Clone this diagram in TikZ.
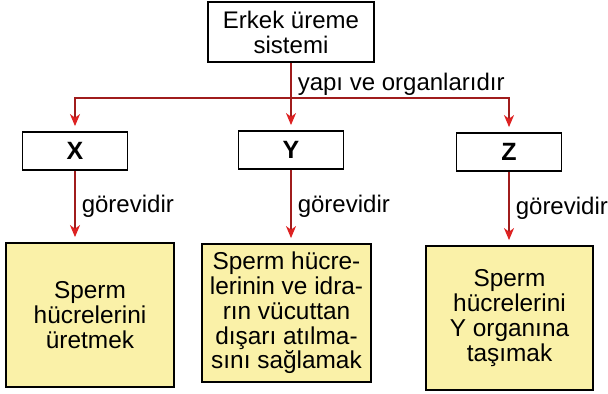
\documentclass[tikz,border=0pt]{standalone}
\usepackage{fontspec}
\setmainfont{Liberation Sans}
\usetikzlibrary{arrows.meta, calc}

\definecolor{linered}{HTML}{A01C1C}
\definecolor{tipred}{HTML}{DD2222}
\definecolor{paleyellow}{HTML}{FAF1A8}

\begin{document}
\begin{tikzpicture}[x=0.5pt, y=0.5pt,
    trunk/.style={draw=linered, line width=0.8pt},
    link/.style={trunk, -{Stealth[length=6pt, width=5pt, inset=1.8pt, color=tipred]}, shorten >=2.5pt},
    system/.style={draw, line width=0.9pt, fill=white, align=center, minimum width=83pt, minimum height=30pt, inner sep=1pt, font=\fontsize{12}{12.5}\selectfont},
    organ/.style={draw, line width=0.9pt, fill=white, minimum width=52.5pt, minimum height=19pt, inner sep=1pt, font=\fontsize{12.5}{14}\selectfont\bfseries},
    duty/.style={draw, line width=0.9pt, fill=paleyellow, align=center, minimum width=84pt, minimum height=72pt, inner sep=1pt, font=\fontsize{12.2}{12.4}\selectfont},
    tag/.style={right, inner sep=3pt, font=\fontsize{12}{14}\selectfont}]

    \useasboundingbox (0,0) rectangle (608,394);

    \node[system] (sys) at (291,362) {Erkek üreme\\sistemi};

    \node[organ] (x) at (75,243) {X};
    \node[organ] (y) at (291,244) {Y};
    \node[organ] (z) at (509,242) {Z};

    \node[duty] (xjob) at (90,79) {Sperm\\hücrelerini\\üretmek};
    \node[duty, minimum width=84.5pt, minimum height=69pt] (yjob) at (286.5,81) {Sperm hücre-\\lerinin ve idra-\\rın vücuttan\\dışarı atılma-\\sını sağlamak};
    \node[duty, minimum width=83.5pt] (zjob) at (509.5,76) {Sperm\\hücrelerini\\Y organına\\taşımak};

    \draw[trunk] (sys.south) -- node[tag, pos=0.62] {yapı ve organlarıdır} (sys.south |- 0,296) coordinate (fork);
    \draw[link] (fork) -| (x.north);
    \draw[link] (fork) -- (y.north);
    \draw[link] (fork) -| (z.north);

    \draw[link] (x.south) -- node[tag] {görevidir} (x.south |- xjob.north);
    \draw[link] (y.south) -- node[tag] {görevidir} (y.south |- yjob.north);
    \draw[link] (z.south) -- node[tag] {görevidir} (z.south |- zjob.north);
\end{tikzpicture}
\end{document}
